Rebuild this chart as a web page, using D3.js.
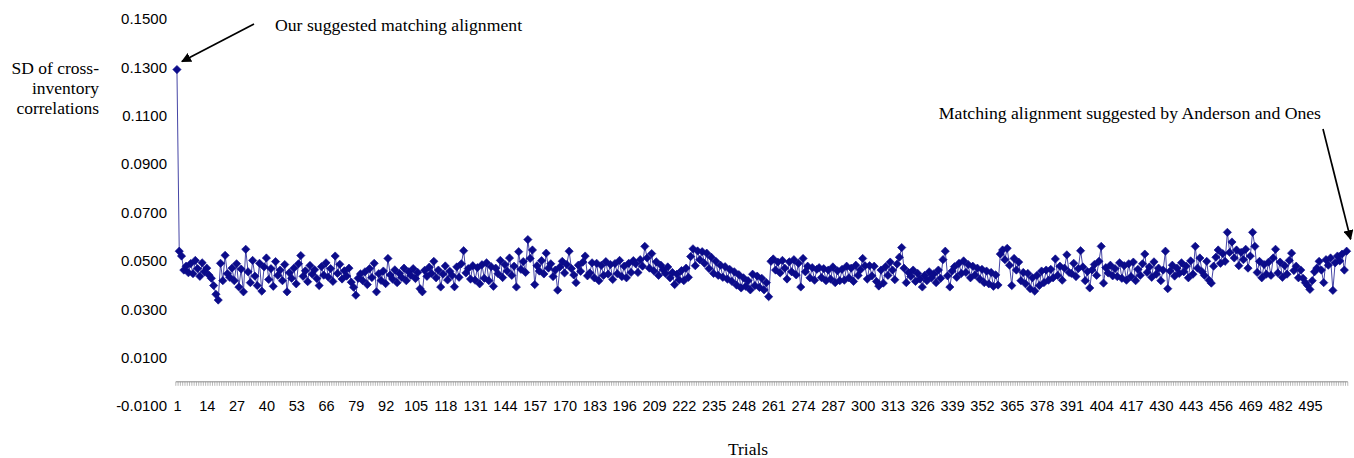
<!DOCTYPE html>
<html>
<head>
<meta charset="utf-8">
<script src="https://cdn.jsdelivr.net/npm/d3@7"></script>
<style>
  body { margin: 0; background: #fff; }
  .serif { font-family: "Liberation Serif", "Times New Roman", serif; fill: #000; }
  .tick text { font-family: "Liberation Sans", Arial, sans-serif; fill: #000; }
</style>
</head>
<body>
<div id="visualization"></div>
<script>
// SD of cross-inventory correlations per trial
const sdValues = [
  0.1291, 0.0540, 0.0520, 0.0462, 0.0478, 0.0451, 0.0489, 0.0447, 0.0502, 0.0468,
  0.0436, 0.0492, 0.0455, 0.0470, 0.0441, 0.0428, 0.0398, 0.0362, 0.0338, 0.0490,
  0.0418, 0.0523, 0.0447, 0.0432, 0.0470, 0.0418, 0.0488, 0.0392, 0.0466, 0.0372,
  0.0548, 0.0455, 0.0410, 0.0502, 0.0437, 0.0398, 0.0490, 0.0375, 0.0475, 0.0512,
  0.0423, 0.0468, 0.0395, 0.0497, 0.0440, 0.0462, 0.0418, 0.0485, 0.0372, 0.0451,
  0.0428, 0.0470, 0.0405, 0.0488, 0.0522, 0.0436, 0.0459, 0.0414, 0.0481, 0.0445,
  0.0463, 0.0427, 0.0398, 0.0476, 0.0441, 0.0492, 0.0433, 0.0468, 0.0415, 0.0520,
  0.0448, 0.0486, 0.0425, 0.0459, 0.0437, 0.0470, 0.0412, 0.0391, 0.0358, 0.0428,
  0.0446, 0.0418, 0.0455, 0.0402, 0.0468, 0.0431, 0.0490, 0.0372, 0.0447, 0.0419,
  0.0458, 0.0406, 0.0510, 0.0442, 0.0425, 0.0463, 0.0410, 0.0448, 0.0432, 0.0470,
  0.0418, 0.0455, 0.0440, 0.0468, 0.0427, 0.0452, 0.0385, 0.0372, 0.0461, 0.0436,
  0.0474, 0.0448, 0.0498, 0.0430, 0.0462, 0.0392, 0.0445, 0.0479, 0.0421, 0.0457,
  0.0440, 0.0393, 0.0475, 0.0432, 0.0488, 0.0542, 0.0450, 0.0468, 0.0425, 0.0480,
  0.0420, 0.0472, 0.0405, 0.0484, 0.0428, 0.0492, 0.0418, 0.0476, 0.0395, 0.0470,
  0.0447, 0.0502, 0.0431, 0.0485, 0.0458, 0.0512, 0.0440, 0.0478, 0.0392, 0.0538,
  0.0465, 0.0497, 0.0452, 0.0588, 0.0510, 0.0545, 0.0402, 0.0480, 0.0458, 0.0501,
  0.0446, 0.0532, 0.0470, 0.0488, 0.0435, 0.0462, 0.0379, 0.0475, 0.0498, 0.0450,
  0.0485, 0.0540, 0.0468, 0.0442, 0.0410, 0.0482, 0.0457, 0.0495, 0.0520, 0.0438,
  0.0450, 0.0492, 0.0430, 0.0490, 0.0418, 0.0481, 0.0440, 0.0497, 0.0445, 0.0485,
  0.0423, 0.0489, 0.0447, 0.0502, 0.0435, 0.0478, 0.0430, 0.0490, 0.0452, 0.0501,
  0.0488, 0.0452, 0.0505, 0.0478, 0.0560, 0.0512, 0.0470, 0.0530, 0.0458, 0.0496,
  0.0440, 0.0482, 0.0463, 0.0448, 0.0475, 0.0430, 0.0452, 0.0402, 0.0445, 0.0421,
  0.0460, 0.0418, 0.0470, 0.0432, 0.0518, 0.0550, 0.0480, 0.0541, 0.0505, 0.0538,
  0.0490, 0.0532, 0.0468, 0.0515, 0.0448, 0.0498, 0.0440, 0.0482, 0.0432, 0.0476,
  0.0425, 0.0465, 0.0415, 0.0455, 0.0400, 0.0443, 0.0388, 0.0430, 0.0395, 0.0418,
  0.0380, 0.0445, 0.0398, 0.0437, 0.0390, 0.0428, 0.0380, 0.0410, 0.0352, 0.0498,
  0.0508, 0.0462, 0.0495, 0.0450, 0.0502, 0.0470, 0.0425, 0.0496, 0.0455, 0.0505,
  0.0442, 0.0490, 0.0392, 0.0510, 0.0455, 0.0478, 0.0430, 0.0472, 0.0420, 0.0465,
  0.0472, 0.0431, 0.0468, 0.0418, 0.0462, 0.0425, 0.0475, 0.0410, 0.0459, 0.0418,
  0.0465, 0.0420, 0.0478, 0.0430, 0.0470, 0.0415, 0.0482, 0.0440, 0.0463, 0.0510,
  0.0480, 0.0425, 0.0480, 0.0438, 0.0478, 0.0415, 0.0396, 0.0462, 0.0408, 0.0476,
  0.0440, 0.0495, 0.0462, 0.0422, 0.0487, 0.0515, 0.0555, 0.0470, 0.0410, 0.0452,
  0.0436, 0.0462, 0.0415, 0.0448, 0.0425, 0.0392, 0.0440, 0.0418, 0.0455, 0.0430,
  0.0446, 0.0410, 0.0462, 0.0428, 0.0505, 0.0540, 0.0438, 0.0392, 0.0458, 0.0476,
  0.0432, 0.0490, 0.0448, 0.0500, 0.0452, 0.0485, 0.0430, 0.0478, 0.0442, 0.0470,
  0.0425, 0.0465, 0.0410, 0.0458, 0.0405, 0.0452, 0.0395, 0.0442, 0.0400, 0.0528,
  0.0545, 0.0505, 0.0552, 0.0482, 0.0398, 0.0510, 0.0462, 0.0495, 0.0418, 0.0452,
  0.0405, 0.0448, 0.0385, 0.0430, 0.0375, 0.0440, 0.0398, 0.0458, 0.0410, 0.0462,
  0.0420, 0.0465, 0.0430, 0.0508, 0.0440, 0.0478, 0.0420, 0.0470, 0.0525, 0.0452,
  0.0448, 0.0490, 0.0435, 0.0468, 0.0542, 0.0475, 0.0418, 0.0456, 0.0388, 0.0462,
  0.0485, 0.0440, 0.0498, 0.0560, 0.0408, 0.0472, 0.0450, 0.0482, 0.0438, 0.0468,
  0.0435, 0.0492, 0.0428, 0.0480, 0.0420, 0.0488, 0.0435, 0.0495, 0.0418, 0.0465,
  0.0440, 0.0488, 0.0528, 0.0452, 0.0475, 0.0432, 0.0496, 0.0445, 0.0470, 0.0418,
  0.0462, 0.0540, 0.0385, 0.0458, 0.0482, 0.0437, 0.0470, 0.0448, 0.0492, 0.0455,
  0.0478, 0.0430, 0.0500, 0.0445, 0.0560, 0.0470, 0.0512, 0.0455, 0.0440, 0.0498,
  0.0420, 0.0408, 0.0478, 0.0515, 0.0545, 0.0490, 0.0530, 0.0498, 0.0618, 0.0535,
  0.0578, 0.0512, 0.0545, 0.0480, 0.0535, 0.0505, 0.0548, 0.0470, 0.0520, 0.0618,
  0.0560, 0.0452, 0.0498, 0.0430, 0.0485, 0.0445, 0.0495, 0.0440, 0.0512, 0.0548,
  0.0450, 0.0495, 0.0432, 0.0480, 0.0445, 0.0502, 0.0532, 0.0460, 0.0478, 0.0430,
  0.0462, 0.0428, 0.0410, 0.0398, 0.0382, 0.0418, 0.0455, 0.0470, 0.0498, 0.0462,
  0.0410, 0.0505, 0.0482, 0.0512, 0.0378, 0.0492, 0.0520, 0.0500, 0.0528, 0.0462, 0.0540
];

// trial numbers 1..N
const trials = sdValues.map((v, i) => i + 1);

// x labels every 13 trials
const xTickLabels = [1, 14, 27, 40, 53, 66, 79, 92, 105, 118, 131, 144, 157, 170, 183, 196,
  209, 222, 235, 248, 261, 274, 287, 300, 313, 326, 339, 352, 365, 378, 391, 404, 417,
  430, 443, 456, 469, 482, 495];

const yTickValues = [-0.01, 0.01, 0.03, 0.05, 0.07, 0.09, 0.11, 0.13, 0.15];

const yAxisTitle = ["SD of cross-", "inventory", "correlations"];

function main(){
    let width = 1354;
    let height = 458;
    let navy = "#0b0b8a";

    let svg = d3.select(document.getElementById('visualization'))
        .append('svg')
        .attr('width', width)
        .attr('height', height);

    svg.append("defs").append("marker")
        .attr("id", "arrow")
        .attr("viewBox", "0 0 10 10")
        .attr("refX", 9).attr("refY", 5)
        .attr("markerWidth", 10).attr("markerHeight", 10)
        .attr("markerUnits", "userSpaceOnUse")
        .attr("orient", "auto")
        .append("path")
            .attr("d", "M0,0L10,5L0,10Z")
            .attr("fill", "#000");

    // scales
    let x = d3.scaleBand()
        .domain(trials)
        .range([175.8, 175.8 + trials.length * 2.2935])
        .paddingInner(0).paddingOuter(0);
    let cx = (t) => x(t) + x.bandwidth() / 2;

    let y = d3.scaleLinear()
        .domain([-0.01, 0.15])
        .range([406, 19]);

    // category axis at y = 0, a tick at every category boundary
    let axisY = y(0);
    let axisG = svg.append("g");
    axisG.append("line")
        .attr("x1", x.range()[0]).attr("x2", x.range()[1])
        .attr("y1", axisY).attr("y2", axisY)
        .attr("stroke", "#8a8a8a").attr("stroke-width", 1);
    axisG.selectAll("line.tk")
        .data(trials.concat([trials.length + 1]))
        .enter()
        .append("line")
            .attr("class", "tk")
            .attr("x1", (d) => {return d <= trials.length ? x(d) : x.range()[1]})
            .attr("x2", (d) => {return d <= trials.length ? x(d) : x.range()[1]})
            .attr("y1", axisY)
            .attr("y2", axisY + 4)
            .attr("stroke", "#8a8a8a")
            .attr("stroke-width", 0.6);

    // x labels
    svg.append("g")
        .attr("transform", `translate(0,${axisY})`)
        .call(d3.axisBottom(d3.scalePoint().domain(trials).range([cx(1), cx(trials.length)]))
            .tickValues(xTickLabels).tickSize(0).tickPadding(19))
        .call(g => g.select(".domain").remove())
        .selectAll("text")
            .attr("font-size", "14.5px");

    // y labels (plain hyphen for the minus, as in the original)
    let fmt = d3.format(".4f");
    svg.append("g")
        .attr("transform", "translate(167,0)")
        .call(d3.axisLeft(y).tickValues(yTickValues).tickSize(0).tickPadding(0)
            .tickFormat((d) => fmt(d).replace("\u2212", "-")))
        .call(g => g.select(".domain").remove())
        .selectAll("text")
            .attr("font-size", "15px");
    svg.selectAll(".tick text").attr("font-family", "'Liberation Sans', Arial, sans-serif");

    // series line
    let line = d3.line()
        .x((d, i) => cx(trials[i]))
        .y((d) => y(d));
    svg.append("path")
        .datum(sdValues)
        .attr("d", line)
        .attr("fill", "none")
        .attr("stroke", "#4646a6")
        .attr("stroke-width", 1);

    // diamond markers
    let diamond = d3.symbol().type(d3.symbolSquare).size(34);
    svg.append("g")
        .selectAll("path")
        .data(sdValues)
        .enter()
        .append("path")
            .attr("d", diamond)
            .attr("transform", (d, i) => `translate(${cx(trials[i])},${y(d)}) rotate(45)`)
            .attr("fill", navy)
            .attr("stroke", navy)
            .attr("stroke-width", 0.6);

    // y axis title, three lines
    svg.append("text")
        .attr("class", "serif")
        .attr("text-anchor", "end")
        .attr("font-size", "17.5px")
        .selectAll("tspan")
        .data(yAxisTitle)
        .enter()
        .append("tspan")
            .attr("x", 99)
            .attr("y", (d, i) => 74 + i * 20)
            .text((d) => d);

    // x axis title
    svg.append("text")
        .attr("class", "serif")
        .attr("x", 748).attr("y", 455)
        .attr("text-anchor", "middle")
        .attr("font-size", "17.5px")
        .text("Trials");

    // annotations
    let first = trials[0];
    let last = trials[trials.length - 1];
    svg.append("text")
        .attr("class", "serif")
        .attr("x", 275).attr("y", 31)
        .attr("font-size", "17.7px")
        .text("Our suggested matching alignment");
    svg.append("line")
        .attr("x1", 254).attr("y1", 24)
        .attr("x2", cx(first) + 5).attr("y2", y(sdValues[0]) - 8)
        .attr("stroke", "#000").attr("stroke-width", 1.7)
        .attr("marker-end", "url(#arrow)");

    svg.append("text")
        .attr("class", "serif")
        .attr("x", 1321).attr("y", 119)
        .attr("text-anchor", "end")
        .attr("font-size", "17.7px")
        .text("Matching alignment suggested by Anderson and Ones");
    svg.append("line")
        .attr("x1", 1323).attr("y1", 129)
        .attr("x2", cx(last) + 4).attr("y2", y(sdValues[sdValues.length - 1]) - 12)
        .attr("stroke", "#000").attr("stroke-width", 1.7)
        .attr("marker-end", "url(#arrow)");
}

window.onload = () => {
    main();
}
</script>
</body>
</html>
